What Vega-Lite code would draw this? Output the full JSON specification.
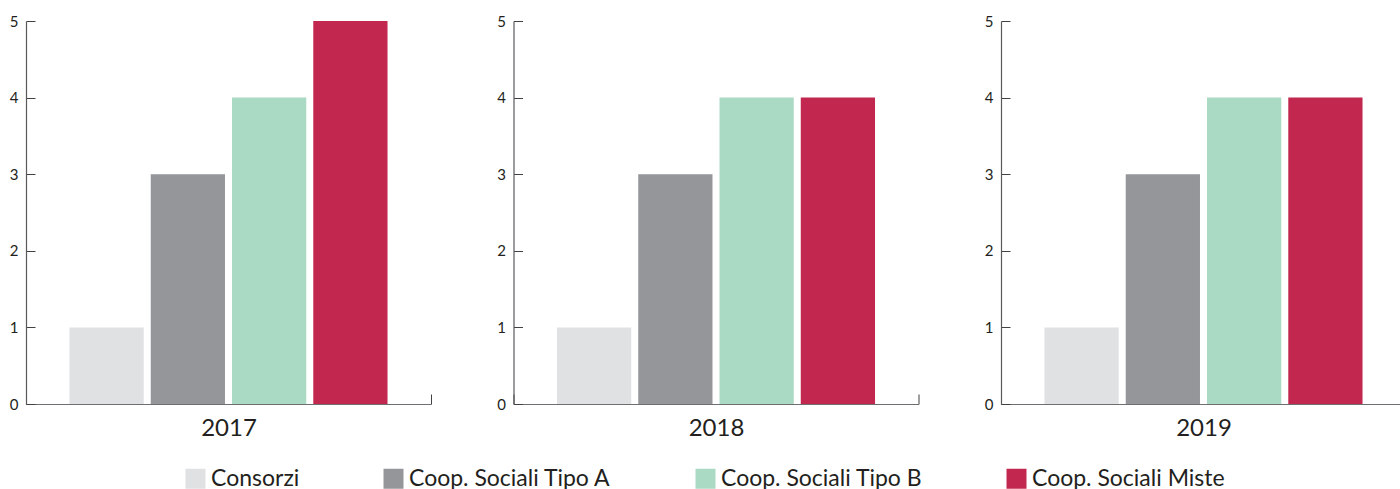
{
  "$schema": "https://vega.github.io/schema/vega-lite/v6.json",
  "padding": {"left": 9, "top": 14, "right": 0, "bottom": 0},
  "data": {
    "values": [
      {"anno": "2017", "tipo": "Consorzi", "valore": 1},
      {"anno": "2017", "tipo": "Coop. Sociali Tipo A", "valore": 3},
      {"anno": "2017", "tipo": "Coop. Sociali Tipo B", "valore": 4},
      {"anno": "2017", "tipo": "Coop. Sociali Miste", "valore": 5},
      {"anno": "2018", "tipo": "Consorzi", "valore": 1},
      {"anno": "2018", "tipo": "Coop. Sociali Tipo A", "valore": 3},
      {"anno": "2018", "tipo": "Coop. Sociali Tipo B", "valore": 4},
      {"anno": "2018", "tipo": "Coop. Sociali Miste", "valore": 4},
      {"anno": "2019", "tipo": "Consorzi", "valore": 1},
      {"anno": "2019", "tipo": "Coop. Sociali Tipo A", "valore": 3},
      {"anno": "2019", "tipo": "Coop. Sociali Tipo B", "valore": 4},
      {"anno": "2019", "tipo": "Coop. Sociali Miste", "valore": 4}
    ]
  },
  "facet": {
    "column": {"field": "anno", "type": "nominal", "header": null}
  },
  "spacing": 82.5,
  "bounds": "flush",
  "resolve": {"scale": {"x": "independent", "y": "independent"}},
  "spec": {
    "width": 405,
    "height": 383,
    "mark": {"type": "bar"},
    "encoding": {
      "x": {
        "field": "anno",
        "type": "nominal",
        "title": null,
        "scale": {"paddingInner": 0, "paddingOuter": 0},
        "axis": {
          "labelAngle": 0,
          "labelFont": "Lato",
          "labelFontSize": 24,
          "labelColor": "#231f20",
          "labelPadding": 22,
          "domainColor": "#6d6e71",
          "domainWidth": 1.2,
          "tickBand": "extent",
          "tickSize": -10,
          "tickColor": "#414042",
          "tickWidth": 1
        }
      },
      "xOffset": {
        "field": "tipo",
        "type": "nominal",
        "sort": ["Consorzi", "Coop. Sociali Tipo A", "Coop. Sociali Tipo B", "Coop. Sociali Miste"],
        "scale": {"range": [0, 405], "paddingInner": 0.0864, "paddingOuter": 0.535}
      },
      "y": {
        "field": "valore",
        "type": "quantitative",
        "title": null,
        "scale": {"domain": [0, 5]},
        "axis": {
          "values": [0, 1, 2, 3, 4, 5],
          "grid": false,
          "labelFont": "Lato",
          "labelFontSize": 15,
          "labelColor": "#231f20",
          "labelPadding": 17,
          "domainColor": "#58595b",
          "domainWidth": 1.2,
          "tickSize": -9,
          "tickColor": "#414042",
          "tickWidth": 1
        }
      },
      "color": {
        "field": "tipo",
        "type": "nominal",
        "sort": ["Consorzi", "Coop. Sociali Tipo A", "Coop. Sociali Tipo B", "Coop. Sociali Miste"],
        "scale": {
          "domain": ["Consorzi", "Coop. Sociali Tipo A", "Coop. Sociali Tipo B", "Coop. Sociali Miste"],
          "range": ["#e0e1e3", "#959699", "#aad9c4", "#c2274f"]
        },
        "legend": {
          "title": null,
          "orient": "none",
          "legendX": 158,
          "legendY": 446,
          "direction": "horizontal",
          "symbolType": "square",
          "symbolSize": 400,
          "symbolStrokeWidth": 0,
          "symbolOpacity": 1,
          "labelFont": "Lato",
          "labelFontSize": 23,
          "labelLimit": 0,
          "labelColor": "#231f20",
          "labelOffset": 4,
          "columnPadding": 82
        }
      }
    }
  },
  "config": {
    "view": {"stroke": null},
    "font": "Lato"
  }
}
